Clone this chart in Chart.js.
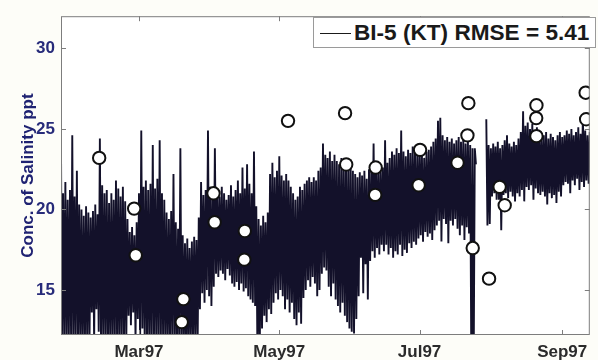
<!DOCTYPE html>
<html>
<head>
<meta charset="utf-8">
<script src="https://cdn.jsdelivr.net/npm/chart.js@4.4.1/dist/chart.umd.min.js"></script>
<style>
  html, body { margin: 0; padding: 0; background: #fdfdf8; }
  #wrap { position: relative; width: 598px; height: 360px; overflow: hidden; }
  #legend {
    position: absolute; left: 313px; top: 17px; width: 283px; height: 31px;
    border: 1px solid #9a9a9a; background: #ffffff;
    font-family: "Liberation Sans", Arial, sans-serif; font-weight: bold; font-size: 22.6px;
    color: #1a1a1a; box-sizing: border-box;
  }
  #legend .ln { position: absolute; left: 6px; top: 15px; width: 31px; height: 0; border-top: 1.5px solid #1a1a1a; }
  #legend .tx { position: absolute; left: 40px; top: 1px; line-height: 28px; white-space: nowrap; }
</style>
</head>
<body>
<div id="wrap">
  <canvas id="c" width="598" height="360"></canvas>
  <div id="legend"><span class="ln"></span><span class="tx">BI-5 (KT) RMSE = 5.41</span></div>
</div>
<script>
// ---- data (day of year 1997) ----
const startDay = 25;            // first daily sample (late Jan 1997)
const hiVals = [
  27.1, 21.0, 21.7, 20.6, 21.2, 24.6, 20.8, 22.4, 20.3, 20.0,
  19.6, 20.2, 19.8, 19.5, 19.9, 20.3, 19.7, 24.4, 21.5, 21.0,
  21.2, 20.4, 21.0, 20.6, 21.8, 21.3, 20.8, 21.4, 20.5, 19.4,
  18.6, 18.9, 18.4, 19.2, 21.0, 24.9, 21.4, 21.8, 21.2, 21.6,
  24.0, 21.3, 21.9, 24.3, 21.0, 20.6, 19.8, 19.4, 19.9, 22.2,
  19.2, 18.8, 23.8, 18.4, 17.9, 18.2, 17.6, 18.0, 18.3, 18.1,
  19.5, 21.7, 20.9, 21.2, 24.9, 21.4, 21.0, 23.8, 21.2, 20.8,
  21.4, 21.0, 20.6, 20.9, 21.5, 20.8, 21.2, 21.8, 21.0, 22.6,
  21.3, 22.8, 21.6, 21.0, 23.6, 20.2, 19.4, 19.0, 19.6, 19.2,
  19.8, 22.2, 22.9, 22.0, 22.4, 23.3, 22.1, 21.8, 22.2, 21.8,
  21.4, 21.0, 20.6, 20.8, 21.4, 21.2, 21.6, 21.8, 22.0, 21.7,
  22.0, 21.8, 22.4, 22.6, 24.1, 23.4, 23.2, 23.6, 23.0, 23.4,
  23.0, 22.8, 23.2, 22.9, 23.0, 22.7, 23.1, 22.4, 22.2, 22.0,
  22.3, 22.1, 22.4, 21.9, 22.5, 22.6, 24.1, 22.8, 22.4, 22.7,
  22.6, 24.3, 22.9, 23.2, 23.6, 23.4, 23.8, 23.5, 24.9, 23.6,
  23.3, 23.7, 23.5, 23.9, 23.6, 23.4, 23.8, 23.5, 23.2, 23.6,
  23.7, 23.9, 24.2, 24.4, 25.5, 25.7, 24.6, 24.3, 24.5, 24.2,
  24.4, 24.1, 24.3, 24.5, 24.2, 24.4, 24.1, 24.3, 24.0, 23.8,
  23.8, null, null, null, null, 25.6, 24.0, 23.8, 24.1, 23.9,
  24.2, 23.8, 24.0, 24.3, 24.6, 24.1, 23.9, 24.2, 24.0, 24.4,
  24.8, 26.1, 25.2, 25.4, 25.0, 25.3, 24.9, 25.1, 24.7, 24.5,
  24.6, 24.8, 24.4, 24.7, 24.5, 24.3, 24.6, 24.8, 24.5, 24.6,
  24.9, 24.7, 25.0, 24.6, 24.8, 25.1, 24.7, 25.8, 24.9, 24.6, 24.8
];
const loVals = [
  11.5, 11.8, 11.4, 12.0, 11.6, 11.3, 11.9, 11.5, 11.7, 11.4,
  11.8, 11.5, 12.0, 13.6, 11.8, 13.8, 12.4, 11.6, 11.5, 11.9,
  11.4, 11.7, 11.5, 11.9, 11.3, 11.6, 11.8, 11.5, 12.0, 13.4,
  12.8, 13.6, 11.9, 13.2, 11.6, 12.6, 11.5, 11.8, 11.4, 11.7,
  11.5, 11.9, 11.3, 11.6, 11.8, 11.4, 11.7, 11.5, 11.9, 11.6,
  11.4, 11.8, 11.5, 11.7, 11.3, 11.6, 11.9, 11.5, 12.0, 11.7,
  13.8, 14.8, 14.2, 15.0, 14.6, 14.0, 15.2, 16.0, 15.8, 16.2,
  16.0, 15.6, 16.3, 15.9, 15.4, 15.2, 15.5, 15.0, 15.4, 14.9,
  15.1, 14.6, 14.4, 14.2, 14.0, 11.0, 11.2, 12.6, 13.4, 13.0,
  13.8, 13.5, 14.2, 14.8, 14.4, 15.0, 14.6, 13.8, 14.4, 13.6,
  14.2, 13.2, 12.8, 13.6, 12.9, 14.5, 15.0, 15.6, 15.2, 15.8,
  15.4, 14.6, 15.0, 16.0, 16.4, 16.2, 15.2, 14.6, 15.4, 14.4,
  14.0, 13.6, 14.2, 13.4, 13.0, 12.6, 12.4, 12.3, 13.2, 14.6,
  17.0, 14.8, 16.6, 14.4, 16.8, 17.4, 17.0, 17.6, 17.2, 17.8,
  17.4, 17.8, 17.2, 17.6, 17.0, 17.4, 17.2, 17.8, 17.1, 17.5,
  17.3, 17.9, 17.6, 18.0, 17.8, 18.2, 18.4, 18.0, 18.6, 18.3,
  18.5, 18.1, 18.7, 19.0, 19.3, 18.0, 19.4, 19.1, 17.9, 19.3,
  19.0, 19.4, 18.8, 18.4, 19.0, 18.1, 18.9, 18.5, 10.0, 10.0,
  22.8, null, null, null, null, 19.0, 19.1, 20.8, 21.0, 20.6,
  20.6, 18.7, 20.9, 21.0, 20.7, 21.1, 20.8, 20.5, 21.0, 20.8,
  21.2, 20.5, 21.4, 21.2, 21.5, 20.6, 21.3, 21.0, 20.9, 21.1,
  20.8, 20.3, 21.0, 20.7, 20.9, 20.4, 21.1, 20.8, 21.5, 21.7,
  21.6, 21.0, 21.8, 21.5, 21.9, 21.2, 21.7, 21.4, 21.8, 21.6, 21.7
];
// observed samples (circles)
const obsDays = [41.7, 56.9, 57.6, 78.3, 77.6, 91.4, 91.9, 105.0, 104.8, 123.8, 148.6, 149.1, 161.9, 161.7,
                 181.2, 180.6, 197.5, 202.2, 201.8, 204.1, 211.2, 215.8, 218.0, 231.8, 231.7, 231.8, 253.2, 253.4];
const obsVals = [23.2, 20.05, 17.15, 14.43, 13.0, 21.0, 19.2, 18.66, 16.88, 25.5, 25.98, 22.79, 22.6, 20.9,
                 23.7, 21.5, 22.9, 26.6, 24.6, 17.6, 15.7, 21.4, 20.26, 26.47, 25.67, 24.55, 27.25, 25.6];
// axes
const xTickDays = [59, 120, 181, 243];
const xTickLabels = ['Mar97', 'May97', 'Jul97', 'Sep97'];
const yTicks = [15, 20, 25, 30];
const xMin = 25.1, xMax = 255.0, yMin = 12.2, yMax = 32.0;

const lineData = [];
hiVals.forEach((h, i) => {
  lineData.push({ x: startDay + i, y: h });
  lineData.push({ x: startDay + i + 0.5, y: loVals[i] });
});
const obsData = obsDays.map((d, i) => ({ x: d, y: obsVals[i] }));

const FONT = '"Liberation Sans", Arial, sans-serif';

const framePlugin = {
  id: 'frame',
  beforeDraw(chart) {
    const { ctx, chartArea: a } = chart;
    ctx.save();
    ctx.fillStyle = '#fdfdf8';
    ctx.fillRect(0, 0, chart.width, chart.height);
    ctx.fillStyle = '#ffffff';
    ctx.fillRect(a.left, a.top, a.right - a.left, a.bottom - a.top);
    ctx.restore();
  },
  afterDraw(chart) {
    const { ctx, chartArea: a, scales } = chart;
    ctx.save();
    ctx.strokeStyle = '#7d7d7d';
    ctx.lineWidth = 1;
    ctx.strokeRect(a.left + 0.5, a.top + 0.5, a.right - a.left - 1, a.bottom - a.top - 1);
    ctx.beginPath();
    xTickDays.forEach(d => {
      const px = Math.round(scales.x.getPixelForValue(d)) + 0.5;
      ctx.moveTo(px, a.bottom); ctx.lineTo(px, a.bottom - 5);
      ctx.moveTo(px, a.top); ctx.lineTo(px, a.top + 5);
    });
    yTicks.forEach(v => {
      const py = Math.round(scales.y.getPixelForValue(v)) + 0.5;
      ctx.moveTo(a.left, py); ctx.lineTo(a.left + 5, py);
      ctx.moveTo(a.right, py); ctx.lineTo(a.right - 5, py);
    });
    ctx.stroke();
    ctx.restore();
  }
};

new Chart(document.getElementById('c'), {
  type: 'line',
  data: {
    datasets: [
      {
        type: 'scatter', data: obsData, order: 0,
        pointRadius: 6.2, pointBorderWidth: 2, pointBorderColor: '#111111',
        pointBackgroundColor: '#ffffff', showLine: false
      },
      {
        type: 'line', data: lineData, order: 1,
        borderColor: '#13112a', borderWidth: 1.9, pointRadius: 0, tension: 0, spanGaps: false
      }
    ]
  },
  options: {
    responsive: false, animation: false, devicePixelRatio: 1,
    layout: { padding: { top: 12, right: 1, left: 0, bottom: 0 } },
    plugins: { legend: { display: false }, tooltip: { enabled: false } },
    scales: {
      x: {
        type: 'linear', min: xMin, max: xMax,
        afterFit(s) { s.height = 25; },
        afterBuildTicks(s) { s.ticks = xTickDays.map(v => ({ value: v })); },
        ticks: {
          autoSkip: false, maxRotation: 0, padding: 7,
          color: '#2b2b2b', font: { family: FONT, size: 17, weight: 'bold' },
          callback(v) { const i = xTickDays.indexOf(v); return i >= 0 ? xTickLabels[i] : ''; }
        },
        grid: { display: false, drawTicks: false },
        border: { display: false }
      },
      y: {
        type: 'linear', min: yMin, max: yMax,
        afterFit(s) { s.width = 61; },
        afterBuildTicks(s) { s.ticks = yTicks.map(v => ({ value: v })); },
        ticks: {
          padding: 6, color: '#272b7a', font: { family: FONT, size: 17, weight: 'bold' }
        },
        grid: { display: false, drawTicks: false },
        border: { display: false },
        title: {
          display: true, text: 'Conc. of Salinity ppt', color: '#1f2272',
          font: { family: FONT, size: 17, weight: 'bold' },
          padding: { top: 18, bottom: 0 }
        }
      }
    }
  },
  plugins: [framePlugin]
});
</script>
</body>
</html>
